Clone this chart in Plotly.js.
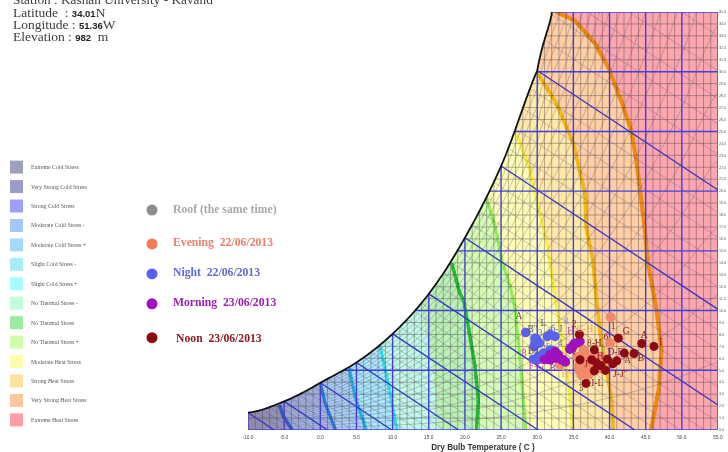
<!DOCTYPE html>
<html><head><meta charset="utf-8">
<script src="https://cdn.plot.ly/plotly-3.0.1.min.js"></script>
<style>html,body{margin:0;padding:0;background:#fff;overflow:hidden}#c{width:728px;height:452px;filter:blur(0.4px)}</style>
</head><body><div id="c"></div>
<script>
// Saturation curve (last nodes continue it past the frame, for the grid only)
const satT=[-10,-5,0,5,10,15,20,25,30,32,35,40,45,50,55];
const satW=[1.45,2.4,3.95,5.65,8.05,11.4,16.1,22.1,30.1,34.8,41,54,70,90,113];

// Stress-zone boundaries
const b1T=[-5.67,-5.1,-3.96,-3.9], b1W=[2.1,1.14,0.08,0];
const b2T=[0,0.65,2.03,2.1], b2W=[3.95,2.28,0.1,0];
const b3T=[4,4.8,6.3,6.35], b3W=[5.18,2.8,0.1,0];
const b4T=[8.26,9.18,10.57,10.6], b4W=[7,4.5,0.1,0];
const b5T=[14,15.6,16.3,16.35], b5W=[10.06,5.04,0.1,0];
const b6T=[18.17,19.3,19.8,20.47,21.4,21.85,21.6,21.6], b6W=[13.96,11.45,10.9,8.66,5.32,2.53,0.08,0];
const b7T=[23,24.2,25.1,26.3,26.96,27.6,28.3,28.4], b7W=[19.4,17,14.2,12,10.06,6.15,0.86,0];
const b8T=[27.13,28.97,29.9,31.3,32.7,34.3,34.77,34.8], b8W=[24.83,21.76,19.26,15.8,10.3,4.2,0.86,0];
const b9T=[29.93,32.7,35,36.6,36.77,37.7,38.2,38.7,40.3,40.5], b9W=[30,27.3,24,19.8,17,14.2,10.9,8.1,2.53,0];
const b10T=[32.6,35.2,38,39.8,41.6,43,43.7,44.1,44.9,45.3,46.5,47.2,46.8,45.8,45.7], b10W=[35,34.3,32.36,30.4,27.6,25.1,22.6,20.65,16.75,14,10.06,6.7,3.37,0.17,0];

// Measured points
const eveningT=[40.16,40.07,36.6,35.9,36.4,37.07,35.9,36.6,37.53,33.15,38.7,37.9,35.6,36.38,35.92,36.84,35.69,36.15,37.07,37.76,38.7];
const eveningW=[9.45,7.27,6.44,5.74,5.32,5.46,4.9,4.63,4.9,5.46,6.15,6.2,6.1,6.7,6.16,6.02,5.32,4.62,4.62,5.18,5.18];
const nightT=[28.4,29.9,29.7,31.4,32.46,29.93,30.6,31.3,32,30.4,31.1,29.6,30.16,30.85,31.77,29.47,30.3,29.7,31.77];
const nightW=[8.16,7.6,7.27,7.83,7.83,5.88,6.16,6.3,6.44,5.95,5.95,7.0,6.16,6.44,6.7,5.93,7.27,7.69,7.97];
const morningT=[35.92,35.2,34.5,32.46,32,32.7,33.4,31.54,31,34.9,33.9,31.77,32.46,32.92,33.6,31.77,34.77,35.46];
const morningW=[7.41,7.27,6.77,6.58,6.16,6.02,5.88,6.02,5.9,7.05,5.7,6.3,6.02,6.3,5.88,5.88,6.85,7.27];
const noonT=[35.83,41.22,44.45,46.15,43.39,42.05,40.99,40.44,39.7,37.9,35.92,38.22,38.82,37.9,39.42,36.75,37.53];
const noonW=[8,7.69,7.24,7,6.41,6.44,5.79,5.54,5.93,6.71,5.88,5.6,5.4,4.96,4.99,3.9,5.88];

// Point labels
const labelTxt=["A","B''","L","8","-6-J","3","G","4","8","Bd","F-G","B","H","H","2","G-H","L","8-H","6","G","A","I","B","A","D-E","J-J''","I-L","3","1","7","H","J"];
const labelT=[27.48,29.33,30.85,33.98,32.46,30.4,31.1,33.15,28.2,29.46,29.9,32.14,33.84,34.62,35.1,36.6,34.3,37.9,39.5,42.3,44.8,47.1,44.35,42.5,40.8,41.45,38.3,36.06,40.5,35.2,38.7,36.75];
const labelW=[9.5,8.44,8.9,9.1,8.44,8.1,7.27,7.27,6.38,6.57,5.32,5.1,4.62,8.2,8.8,8.44,6.85,7.27,7.75,8.2,7.9,7.33,5.96,5.8,6.52,4.62,3.87,3.43,8.66,6.44,6.15,5.46];
const labelClr=["#555","#556","#556","#9a9ae8","#5560c0","#6a70e0","#6a70e0","#6a70e0","#c040c0","#704080","#d040d0","#a030c0","#f0a080","#a040c0","#8b2020","#e8a060","#8030b0","#8b2020","#8b2020","#8b1a1a","#8b1a1a","#8b1a1a","#8b1a1a","#a04020","#7a1a40","#8b1a1a","#8b1a1a","#a04020","#8b2020","#8b2020","#8b2020","#8b2020"];

// Legend
const stressNames=["Extreme Cold Stress","Very Strong Cold Stress","Strong Cold Stress","Moderate Cold Stress -","Moderate Cold Stress +","Slight Cold Stress -","Slight Cold Stress +","No Thermal Stress -","No Thermal Stress","No Thermal Stress +","Moderate Heat Stress","Strong Heat Stress","Very Strong Heat Stress","Extreme Heat Stress"];
const stressClr=["#9fa0bd","#9c9ccb","#9f9ffb","#a6c8f8","#a6d8fc","#a6ecfc","#a6fdfd","#c2fcd8","#9ceba0","#cffda9","#fdfdab","#fde19f","#fdc79c","#fc9fa6"];
const seriesNames=["Roof (the same time)","Evening  22/06/2013","Night  22/06/2013","Morning  23/06/2013","Noon  23/06/2013"];
const seriesDot=["#8c8c8c","#f47a55","#5a60ee","#a010c0","#8b0a10"];
const seriesTxt=["#a8a8a8","#e8806a","#6468d4","#9c20b0","#8a1c22"];

// Axis ticks
const minorT=[-9,-8,-7,-6,-4,-3,-2,-1,1,2,3,4,6,7,8,9,11,12,13,14,16,17,18,19,21,22,23,24,26,27,28,29,31,32,33,34,36,37,38,39,41,42,43,44,46,47,48,49,51,52,53,54];
const majorT=[-10,-5,0,5,10,15,20,25,30,35,40,45,50,55];
const minorW=[1,2,3,4,6,7,8,9,11,12,13,14,16,17,18,19,21,22,23,24,26,27,28,29,31,32,33,34];
const majorW=[0,5,10,15,20,25,30,35];
const thickWb=[-10,-5,0,5,10,15,20,25,30];
const thinWb=[-9,-8,-7,-6,-4,-3,-2,-1,1,2,3,4,6,7,8,9,11,12,13,14,16,17,18,19,21,22,23,24,26,27,28,29,31,32,33,34,35,36,37];
const rhLevels=[.05,.1,.15,.2,.25,.3,.35,.4,.45,.5,.55,.6,.65,.7,.75,.8,.85,.9,.95];
const wbSlope=-0.4;

// Smooth (Catmull-Rom in log space) reading of the saturation table
function satAt(t){let i=0;const n=satT.length;while(i<n-2&&t>satT[i+1])i++;
  const L0=k=>Math.log(satW[Math.max(0,Math.min(n-1,k))]);
  const p0=L0(i-1),p1=L0(i),p2=L0(i+1),p3=L0(i+2),u=(t-satT[i])/(satT[i+1]-satT[i]);
  return Math.exp(0.5*((2*p1)+(-p0+p2)*u+(2*p0-5*p1+4*p2-p3)*u*u+(-p0+3*p1-3*p2+p3)*u*u*u));}

const traces=[];
function zone(bT,bW,clr){
  traces.push({x:[bT[bT.length-1],55,55,bT[0]].concat(bT),y:[bW[bW.length-1],0,35,35].concat(bW),mode:'none',fill:'toself',fillcolor:clr,hoverinfo:'skip'});
}
zone([-10,-10],[35,0],"#a3a9d0");
zone(b1T,b1W,"#a6bbe8");
zone(b2T,b2W,"#a9d2f6");
zone(b3T,b3W,"#aae8fc");
zone(b4T,b4W,"#c2f9e6");
zone(b5T,b5W,"#bcf1b6");
zone(b6T,b6W,"#d4fab4");
zone(b7T,b7W,"#fdfdb6");
zone(b8T,b8W,"#fee8aa");
zone(b9T,b9W,"#fecea4");
zone(b10T,b10W,"#fca6ae");

function line(x,y,clr,w){traces.push({x,y,mode:'lines',line:{color:clr,width:w,simplify:false},hoverinfo:'skip'});}
line(b1T,b1W,"#2a62d8",3.5);
line(b2T,b2W,"#2480e6",3.2);
line(b3T,b3W,"#22b4ea",3.2);
line(b4T,b4W,"#35e0f0",3.2);
line(b6T,b6W,"#22c035",3.5);
line(b7T,b7W,"#90f058",3.2);
line(b8T,b8W,"#f8f040",3.2);
line(b9T,b9W,"#f4b810",3.8);
line(b10T,b10W,"#f28c10",4.2);

function rule(list,vertical,clr,w){const a=[],b=[];list.forEach(v=>{
  if(vertical){a.push(v,v,null);b.push(0,35,null);}else{a.push(-10,55,null);b.push(v,v,null);}});
  line(a,b,clr,w);}
rule(minorT,true,"rgba(50,45,60,0.6)",0.6);
rule(minorW,false,"rgba(50,45,60,0.6)",0.6);
rule(majorT,true,"#4040e0",1.4);
rule(majorW,false,"#4040e0",1.4);

rhLevels.forEach(r=>{const x=[],y=[];for(let t=-10;t<=55;t+=0.5){x.push(t);y.push(r*satAt(t));}
  line(x,y,"rgba(95,70,85,0.55)",0.55);});

// White above the saturation curve; curve sampled along the table
const curveT=[],curveW=[];
for(let t=-10;t<=32.01;t+=0.25){curveT.push(t);curveW.push(satAt(t));}
curveT.push(32);curveW.push(35);
traces.push({x:curveT.concat([-10]),y:curveW.concat([35]),mode:'none',fill:'toself',fillcolor:'#fff',hoverinfo:'skip'});

function wb(list,clr,w){const a=[],b=[];list.forEach(t=>{const s=satAt(t);
  a.push(t,t-s/wbSlope,null);b.push(s,0,null);});line(a,b,clr,w);}
wb(thinWb,"rgba(95,65,140,0.55)",0.55);
wb(thickWb,"#3636c8",1.3);

line(curveT,curveW,"#111",1.8);

function pts(x,y,c,s){traces.push({x,y,mode:'markers',marker:{color:c,size:s,line:{width:0}},hoverinfo:'skip'});}
pts(eveningT,eveningW,"#f08a68",10);
pts(nightT,nightW,"#5a60f0",9.5);
pts(morningT,morningW,"#a010c0",9.5);
pts(noonT,noonW,"#8b0a14",9);
traces.push({x:labelT,y:labelW,text:labelTxt,mode:'text',textposition:'middle center',textfont:{family:'Liberation Serif',size:9.5,color:labelClr},hoverinfo:'skip'});

const L=248,R=718,T=11.5,B=430.5;
const pxX=p=>(p-L)/(R-L),pxY=p=>(B-p)/(B-T);
const ann=[],shapes=[];
function txt(px,py,text,size,color,family,anchor){ann.push({xref:'paper',yref:'paper',x:pxX(px-1),y:pxY(py),text,showarrow:false,xanchor:anchor||'left',yanchor:'middle',borderpad:0,font:{size,color,family:family||'Liberation Serif'}});}
const HD="#3c3c3c";
const bold=s=>'<span style="font-family:Liberation Sans;font-size:9.5px;color:#222"><b>'+s+'</b></span>';
txt(13,-1,"Station : Kashan University - Kavand",13.3,HD);
txt(13,12,"Latitude\u00a0 :\u00a0"+bold("34.01")+"N",13.5,HD);
txt(13,24.5,"Longitude :\u00a0"+bold("51.36")+"W",13.5,HD);
txt(13,36.5,"Elevation :\u00a0"+bold("982")+"\u00a0 m",13.5,HD);

stressNames.forEach((n,i)=>{const yc=167+i*19.49;
  shapes.push({type:'rect',xref:'paper',yref:'paper',x0:pxX(10),x1:pxX(23),y0:pxY(yc-6.5),y1:pxY(yc+6.5),fillcolor:stressClr[i],line:{width:0}});
  txt(30.5,yc,n,5.8,"#555");});

const dotY=[210,244,274,304,338],dotTxtX=[173,173,173,173,176],dotTxtY=[209,243,273,303,339];
seriesNames.forEach((n,i)=>{
  shapes.push({type:'circle',xref:'paper',yref:'paper',x0:pxX(146.5),x1:pxX(157.5),y0:pxY(dotY[i]-5.5),y1:pxY(dotY[i]+5.5),fillcolor:seriesDot[i],line:{width:0}});
  txt(dotTxtX[i],dotTxtY[i],"<b>"+n+"</b>",11.7,seriesTxt[i]);});

Plotly.newPlot('c',traces,{
  width:728,height:452,showlegend:false,paper_bgcolor:'#fff',plot_bgcolor:'#fff',
  margin:{l:L,r:728-R,t:T,b:452-B},
  xaxis:{range:[-10,55],tickmode:'array',tickvals:majorT,ticktext:majorT.map(v=>v.toFixed(1)),ticks:'',showgrid:false,zeroline:false,showline:false,
    tickfont:{size:4.8,color:'#444',family:'Liberation Sans'},ticklen:0,ticklabelstandoff:3,
    title:{text:'<b>Dry Bulb Temperature ( C )</b>',font:{size:8.2,color:'#333',family:'Liberation Sans'},standoff:6}},
  yaxis:{range:[0,35],side:'right',dtick:1,tickformat:'.1f',ticks:'',showgrid:false,zeroline:false,showline:false,
    tickfont:{size:3.6,color:'#555',family:'Liberation Sans'}},
  annotations:ann,shapes
},{displayModeBar:false,staticPlot:true});
</script></body></html>
